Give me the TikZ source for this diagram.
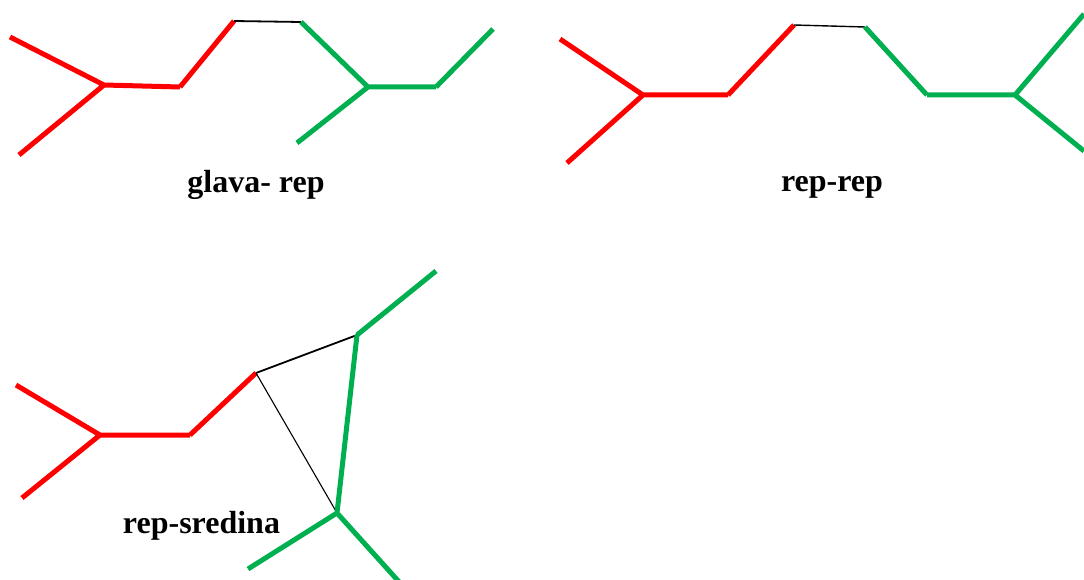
\documentclass[tikz,border=0pt]{standalone}
\usepackage{fontspec}
\setmainfont{Liberation Serif}
\definecolor{bondgreen}{RGB}{0,176,80}
\begin{document}
\begin{tikzpicture}[x=1pt, y=-1pt,
    redbond/.style={draw=red, line width=5pt},
    greenbond/.style={draw=bondgreen, line width=5pt},
    link/.style={draw=black, line width=1.8pt},
    thinlink/.style={draw=black, line width=1.1pt},
    caption/.style={font=\fontsize{32}{38}\selectfont\bfseries, inner sep=0pt, anchor=base}]
    \useasboundingbox (0,0) rectangle (1084,580);
    % glava- rep
    \coordinate (gA) at (10,37); \coordinate (gJ) at (104,85);
    \coordinate (gB) at (19,155); \coordinate (gC) at (180,87);
    \coordinate (gD) at (234,21); \coordinate (gE) at (301,22);
    \coordinate (gF) at (368,87); \coordinate (gG) at (436,87);
    \coordinate (gH) at (493,29); \coordinate (gK) at (297,143);
    \draw[redbond] (gA) -- (gJ) (gB) -- (gJ) (gJ) -- (gC) (gC) -- (gD);
    \draw[link] (gD) -- (gE);
    \draw[greenbond] (gE) -- (gF) (gF) -- (gG) (gG) -- (gH) (gF) -- (gK);
    \node[caption] (glava) at (256,193) {glava- rep};
    % rep-rep
    \coordinate (rA) at (560,39); \coordinate (rJ) at (643,95);
    \coordinate (rB) at (567,163); \coordinate (rC) at (728,95);
    \coordinate (rD) at (794,25); \coordinate (rE) at (865,27);
    \coordinate (rF) at (927,95); \coordinate (rG) at (1015,95);
    \coordinate (rH) at (1084,14); \coordinate (rK) at (1084,151);
    \draw[redbond] (rA) -- (rJ) (rB) -- (rJ) (rJ) -- (rC) (rC) -- (rD);
    \draw[link, line width=1.4pt] (rD) -- (rE);
    \draw[greenbond] (rE) -- (rF) (rF) -- (rG) (rG) -- (rH) (rG) -- (rK);
    \node[caption] (reprep) at (832,192) {rep-rep};
    % rep-sredina
    \coordinate (sA) at (16,385); \coordinate (sJ) at (100,435);
    \coordinate (sB) at (22,498); \coordinate (sC) at (190,435);
    \coordinate (sD) at (256,373); \coordinate (sE) at (357,335);
    \coordinate (sF) at (436,271); \coordinate (sG) at (337,513);
    \coordinate (sH) at (248,569); \coordinate (sK) at (401,584);
    \draw[redbond] (sA) -- (sJ) (sB) -- (sJ) (sJ) -- (sC) (sC) -- (sD);
    \draw[link] (sD) -- (sE);
    \draw[thinlink] (sD) -- (sG);
    \draw[greenbond] (sE) -- (sF) (sE) -- (sG) (sG) -- (sH) (sG) -- (sK);
    \node[caption] (sredina) at (201.5,533) {rep-sredina};
\end{tikzpicture}
\end{document}
